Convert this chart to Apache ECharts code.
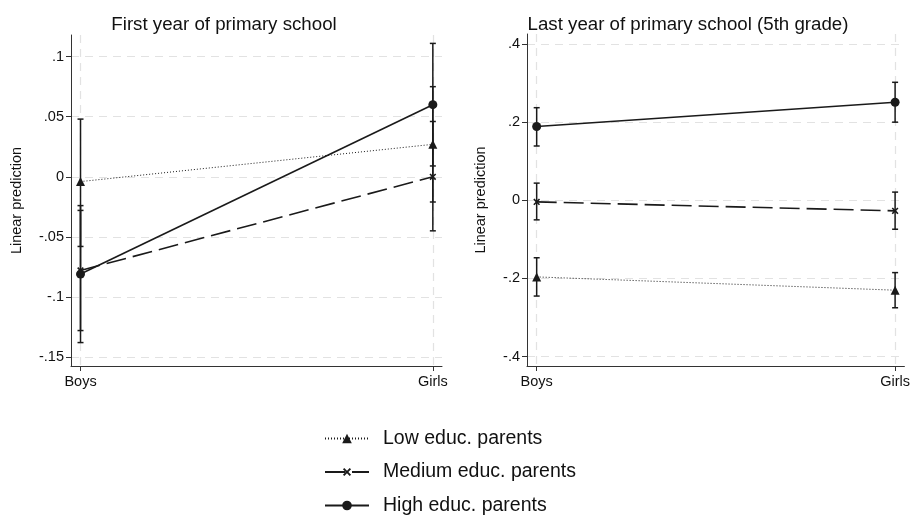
<!DOCTYPE html>
<html>
<head>
<meta charset="utf-8">
<script src="https://cdn.jsdelivr.net/npm/echarts@6/dist/echarts.min.js"></script>
<style>
  html, body { margin: 0; padding: 0; background: #fff; }
  #chart { width: 913px; height: 515px; }
</style>
</head>
<body>
<div id="chart"></div>
<script>
// categories on the x axis (Boys = 0, Girls = 1)
const categories = ['Boys', 'Girls'];
const catPos = [0, 1];

const seriesNames = ['Low educ. parents', 'Medium educ. parents', 'High educ. parents'];

// First year of primary school
const lowFirst = [-0.004, 0.027];
const lowFirstCI = [[-0.058, 0.048], [-0.021, 0.075]];
const medFirst = [-0.078, 0.000];
const medFirstCI = [[-0.128, -0.028], [-0.045, 0.046]];
const highFirst = [-0.081, 0.060];
const highFirstCI = [[-0.138, -0.024], [0.009, 0.111]];

// Last year of primary school (5th grade)
const lowLast = [-0.196, -0.230];
const lowLastCI = [[-0.245, -0.147], [-0.275, -0.185]];
const medLast = [-0.004, -0.027];
const medLastCI = [[-0.050, 0.044], [-0.074, 0.021]];
const highLast = [0.189, 0.251];
const highLastCI = [[0.139, 0.237], [0.200, 0.302]];

const firstTicks = [-0.15, -0.1, -0.05, 0, 0.05, 0.1];
const lastTicks = [-0.4, -0.2, 0, 0.2, 0.4];

const FONT = "'Liberation Sans', Arial, Helvetica, sans-serif";
const INK = '#1a1a1a';
const AXIS = '#333';
const GRIDC = '#e2e2e2';

const crossPath = 'path://M4,0L6,0L6,4L10,4L10,6L6,6L6,10L4,10L4,6L0,6L0,4L4,4Z';

const styles = [
  { symbol: 'triangle', size: 9, line: { type: [1, 2], width: 1 } },
  { symbol: crossPath, size: 8, rotate: 45, line: { type: [20, 7], width: 1.6 } },
  { symbol: 'circle', size: 9, line: { type: 'solid', width: 1.6 } }
];

const fmt = v => v === 0 ? '0' : String(v).replace('0.', '.');

function xAxis(gridIndex) {
  return {
    type: 'value', gridIndex, min: -0.027, max: 1.026,
    axisLine: { show: true, onZero: false, lineStyle: { color: AXIS, width: 1 } },
    axisTick: { show: true, length: 5, customValues: catPos, lineStyle: { color: AXIS } },
    axisLabel: {
      customValues: catPos, formatter: v => categories[Math.round(v)],
      color: '#111', fontFamily: FONT, fontSize: 14.5, margin: 8
    },
    splitLine: { show: true, lineStyle: { color: GRIDC, type: [8, 6], width: 1.2 } }
  };
}

function yAxis(gridIndex, min, max, ticks, gap) {
  return {
    type: 'value', gridIndex, min, max,
    name: 'Linear prediction', nameLocation: 'middle', nameRotate: 90, nameGap: gap,
    nameTextStyle: { color: '#111', fontFamily: FONT, fontSize: 14.5 },
    axisLine: { show: true, onZero: false, lineStyle: { color: AXIS, width: 1 } },
    axisTick: { show: true, length: 5, customValues: ticks, lineStyle: { color: AXIS } },
    axisLabel: {
      customValues: ticks, formatter: fmt,
      color: '#111', fontFamily: FONT, fontSize: 14.5, margin: 7
    },
    splitLine: { show: true, lineStyle: { color: GRIDC, type: [8, 6], width: 1.2 } }
  };
}

function lineSeries(i, values, axisIdx) {
  const s = styles[i];
  return {
    name: seriesNames[i], type: 'line', xAxisIndex: axisIdx, yAxisIndex: axisIdx,
    data: values.map((v, k) => [catPos[k], v]),
    symbol: s.symbol, symbolSize: s.size, symbolRotate: s.rotate || 0,
    itemStyle: { color: INK },
    lineStyle: { color: INK, width: s.line.width, type: s.line.type },
    z: 3
  };
}

function errSeries(name, ci, axisIdx) {
  return {
    name, type: 'custom', xAxisIndex: axisIdx, yAxisIndex: axisIdx,
    data: ci.map((c, k) => [catPos[k], c[0], c[1]]),
    encode: { x: 0, y: [1, 2] },
    z: 2,
    renderItem: (params, api) => {
      const x = api.value(0);
      const lo = api.coord([x, api.value(1)]);
      const hi = api.coord([x, api.value(2)]);
      const hw = 3;
      const st = { stroke: INK, lineWidth: 1.5 };
      return {
        type: 'group',
        children: [
          { type: 'line', shape: { x1: lo[0], y1: lo[1], x2: hi[0], y2: hi[1] }, style: st },
          { type: 'line', shape: { x1: lo[0] - hw, y1: lo[1], x2: lo[0] + hw, y2: lo[1] }, style: st },
          { type: 'line', shape: { x1: hi[0] - hw, y1: hi[1], x2: hi[0] + hw, y2: hi[1] }, style: st }
        ]
      };
    }
  };
}

const chart = echarts.init(document.getElementById('chart'), null, { renderer: 'canvas' });

chart.setOption({
  animation: false,
  backgroundColor: '#fff',
  title: [
    { text: 'First year of primary school', left: 224, top: 15.5, textAlign: 'center', padding: 0,
      textStyle: { fontFamily: FONT, fontSize: 18.7, fontWeight: 'normal', color: '#111' } },
    { text: 'Last year of primary school (5th grade)', left: 688, top: 15.5, textAlign: 'center', padding: 0,
      textStyle: { fontFamily: FONT, fontSize: 18.7, fontWeight: 'normal', color: '#111' } }
  ],
  grid: [
    { left: 71, top: 35, width: 371, height: 331 },
    { left: 527, top: 34, width: 378, height: 332 }
  ],
  xAxis: [xAxis(0), xAxis(1)],
  yAxis: [
    yAxis(0, -0.1575, 0.118, firstTicks, 47),
    yAxis(1, -0.424, 0.4256, lastTicks, 38.5)
  ],
  legend: {
    data: seriesNames, orient: 'vertical', left: 324, top: 428, height: 100, padding: 0,
    itemWidth: 44, itemHeight: 12, itemGap: 12.5,
    textStyle: { fontFamily: FONT, fontSize: 19.5, color: '#111', lineHeight: 21, padding: [0, 0, 0, 9] }
  },
  series: [
    errSeries('lowFirstCI', lowFirstCI, 0),
    errSeries('medFirstCI', medFirstCI, 0),
    errSeries('highFirstCI', highFirstCI, 0),
    lineSeries(0, lowFirst, 0),
    lineSeries(1, medFirst, 0),
    lineSeries(2, highFirst, 0),
    errSeries('lowLastCI', lowLastCI, 1),
    errSeries('medLastCI', medLastCI, 1),
    errSeries('highLastCI', highLastCI, 1),
    lineSeries(0, lowLast, 1),
    lineSeries(1, medLast, 1),
    lineSeries(2, highLast, 1)
  ]
});
</script>
</body>
</html>
